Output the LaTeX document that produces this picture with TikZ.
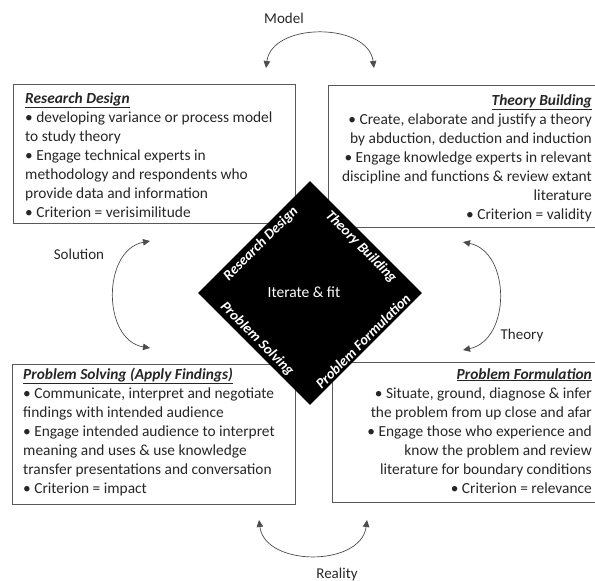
\documentclass[tikz,border=0pt]{standalone}
\usepackage{fontspec}
\setmainfont{Carlito}
\usetikzlibrary{arrows.meta,shapes.geometric}
\definecolor{boxgray}{gray}{0.35}
\definecolor{inkgray}{gray}{0.15}
\begin{document}
\begin{tikzpicture}[x=1pt,y=-1pt,
  panel/.style={draw=boxgray,line width=0.9pt},
  paneltext/.style={inner sep=0pt,text=inkgray,font=\fontsize{15.4}{19}\selectfont},
  cyc/.style={draw=gray!60!black,line width=0.7pt,
    {Triangle[length=7pt,width=6.5pt]}-{Triangle[length=7pt,width=6.5pt]}},
  sidelabel/.style={inner sep=0pt,text=inkgray,font=\fontsize{15}{17}\selectfont},
  edgelabel/.style={inner sep=0pt,text=white,font=\fontsize{14.5}{16}\selectfont\bfseries\itshape}]
\useasboundingbox (0,0) rectangle (595,581);

% four quadrant panels
\draw[panel] (13,84) rectangle (295,223);
\draw[panel] (328,85) rectangle (600,227);
\draw[panel] (12,364) rectangle (295,504);
\draw[panel] (332,362) rectangle (600,502);

\node[paneltext,anchor=north west,align=left] (rd) at (25,92) {%
\underline{\textbf{\textit{Research Design}}}\\
• developing variance or process model\\
to study theory\\
• Engage technical experts in\\
methodology and respondents who\\
provide data and information\\
• Criterion = verisimilitude};

\node[paneltext,anchor=north east,align=right] (tb) at (592,94) {%
\underline{\textbf{\textit{Theory Building}}}\\
• Create, elaborate and justify a theory\\
by abduction, deduction and induction\\
• Engage knowledge experts in relevant\\
discipline and functions \& review extant\\
literature\\
• Criterion = validity};

\node[paneltext,anchor=north west,align=left] (ps) at (23,368) {%
\underline{\textbf{\textit{Problem Solving (Apply Findings)}}}\\
• Communicate, interpret and negotiate\\
findings with intended audience\\
• Engage intended audience to interpret\\
meaning and uses \& use knowledge\\
transfer presentations and conversation\\
• Criterion = impact};

\node[paneltext,anchor=north east,align=right] (pf) at (592,368) {%
\underline{\textbf{\textit{Problem Formulation}}}\\
• Situate, ground, diagnose \& infer\\
the problem from up close and afar\\
• Engage those who experience and\\
know the problem and review\\
literature for boundary conditions\\
• Criterion = relevance};

% central diamond
\node[diamond,fill=black,minimum size=224pt,inner sep=0pt,aspect=1] (hub) at (310,293) {};
\node[inner sep=0pt,text=white,font=\fontsize{15.5}{17}\selectfont] (fit) at (304,292) {Iterate \& fit};
\node[edgelabel,rotate=45]  (lrd) at (261,244) {Research Design};
\node[edgelabel,rotate=-45] (ltb) at (361,247) {Theory Building};
\node[edgelabel,rotate=-45] (lps) at (257,339) {Problem Solving};
\node[edgelabel,rotate=45]  (lpf) at (363,341) {Problem Formulation};

% transition arrows between panels
\coordinate (m1) at (266,68);  \coordinate (m2) at (374,68);
\coordinate (r1) at (259,520); \coordinate (r2) at (367,520);
\coordinate (s1) at (150,241); \coordinate (s2) at (150,348);
\coordinate (t1) at (463,242); \coordinate (t2) at (463,350);

\draw[cyc] (m1) .. controls (272,22) and (368,22) .. (m2);
\draw[cyc] (r1) .. controls (265,567) and (361,567) .. (r2);
\draw[cyc] (s1) .. controls (102,250) and (102,340) .. (s2);
\draw[cyc] (t1) .. controls (511,252) and (511,340) .. (t2);

\node[sidelabel] (model)    at (284,18)  {Model};
\node[sidelabel] (reality)  at (337,574) {Reality};
\node[sidelabel] (solution) at (79,254)  {Solution};
\node[sidelabel] (theory)   at (522,335) {Theory};
\end{tikzpicture}
\end{document}
